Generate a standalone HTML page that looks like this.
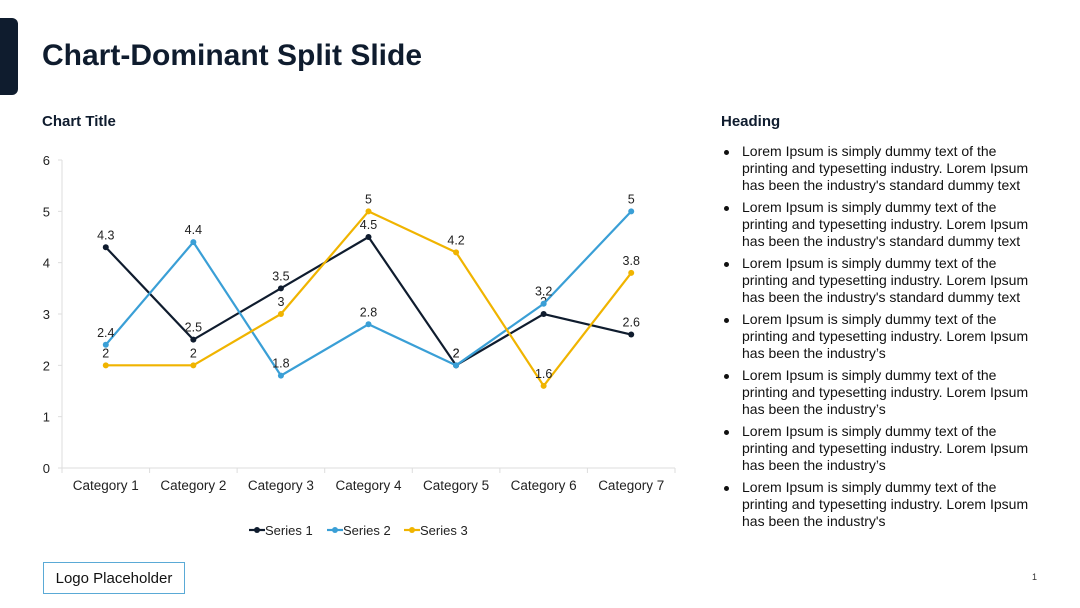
<!DOCTYPE html>
<html><head><meta charset="utf-8"><style>
body{margin:0;width:1080px;height:608px;background:#fff;position:relative;overflow:hidden;font-family:"Liberation Sans",Arial,sans-serif;color:#0f1c2e}
.abs{position:absolute}
ul{margin:0;padding:0;list-style:none}
li{position:relative;padding-left:21px;font-size:14px;line-height:17px;margin-bottom:5px;color:#111}
li:before{content:"";position:absolute;left:3px;top:7px;width:5px;height:5px;border-radius:50%;background:#111}
</style></head><body>
<div class="abs" style="left:0;top:18px;width:18px;height:77px;background:#0f1c2e;border-radius:0 6px 6px 0"></div>
<div class="abs" style="left:42px;top:39px;font-size:30px;font-weight:bold;color:#0f1c2e">Chart-Dominant Split Slide</div>
<div class="abs" style="left:42px;top:113px;font-size:15px;font-weight:bold">Chart Title</div>
<div class="abs" style="left:721px;top:113px;font-size:15px;font-weight:bold">Heading</div>
<ul class="abs" style="left:721px;top:143px;width:318px">
<li>Lorem Ipsum is simply dummy text of the printing and typesetting industry. Lorem Ipsum has been the industry's standard dummy text</li>
<li>Lorem Ipsum is simply dummy text of the printing and typesetting industry. Lorem Ipsum has been the industry's standard dummy text</li>
<li>Lorem Ipsum is simply dummy text of the printing and typesetting industry. Lorem Ipsum has been the industry's standard dummy text</li>
<li>Lorem Ipsum is simply dummy text of the printing and typesetting industry. Lorem Ipsum has been the industry’s</li>
<li>Lorem Ipsum is simply dummy text of the printing and typesetting industry. Lorem Ipsum has been the industry’s</li>
<li>Lorem Ipsum is simply dummy text of the printing and typesetting industry. Lorem Ipsum has been the industry’s</li>
<li>Lorem Ipsum is simply dummy text of the printing and typesetting industry. Lorem Ipsum has been the industry's</li>
</ul>
<div class="abs" style="left:43px;top:562px;width:142px;height:32px;border:1.5px solid #5aaad6;box-sizing:border-box;font-size:15px;line-height:31px;text-align:center;color:#111">Logo Placeholder</div>
<div class="abs" style="left:1032px;top:572px;font-size:9px;color:#333">1</div>
<svg class="abs" id="chart" style="left:0;top:0" width="1080" height="608"></svg>
<script>
const categories=["Category 1","Category 2","Category 3","Category 4","Category 5","Category 6","Category 7"];
const series1=[4.3,2.5,3.5,4.5,2,3,2.6];
const series2=[2.4,4.4,1.8,2.8,2,3.2,5];
const series3=[2,2,3,5,4.2,1.6,3.8];
const seriesNames=["Series 1","Series 2","Series 3"];
const yTicks=[0,1,2,3,4,5,6];
const colors=["#0f1c2e","#3a9fd6","#f0b400"];
const svg=document.getElementById('chart');const NS="http://www.w3.org/2000/svg";
const x0=62,x1=675,yb=468,yt=160,ymax=6;
const bw=(x1-x0)/categories.length;
const X=i=>x0+bw*(i+0.5);const Y=v=>yb-(v/ymax)*(yb-yt);
function mk(t,a,p){const e=document.createElementNS(NS,t);for(const k in a)e.setAttribute(k,a[k]);(p||svg).appendChild(e);return e;}
let e;
e=mk('line',{x1:x0,y1:yt,x2:x0,y2:yb,stroke:'#ddd'});

e=mk('line',{x1:x0,y1:yb,x2:x1,y2:yb,stroke:'#ddd'});

yTicks.forEach(v=>{mk('line',{x1:x0-4,y1:Y(v),x2:x0,y2:Y(v),stroke:'#ddd'});
e=mk('text',{x:x0-12,y:Y(v)+5,'text-anchor':'end','font-size':13,fill:'#222'});e.textContent=v;
});
categories.forEach((c,i)=>{mk('line',{x1:x0+bw*i,y1:yb,x2:x0+bw*i,y2:yb+5,stroke:'#ddd'});
e=mk('text',{x:X(i),y:yb+22,'text-anchor':'middle','font-size':13.5,fill:'#222'});e.textContent=c;
});
mk('line',{x1:x1,y1:yb,x2:x1,y2:yb+5,stroke:'#ddd'});
[series1,series2,series3].forEach((s,k)=>{
 e=mk('polyline',{points:s.map((v,i)=>X(i)+','+Y(v)).join(' '),fill:'none',stroke:colors[k],'stroke-width':2.2});
 
 s.forEach((v,i)=>{e=mk('circle',{cx:X(i),cy:Y(v),r:3,fill:colors[k]});
 
 e=mk('text',{x:X(i),y:Y(v)-8,'text-anchor':'middle','font-size':12.5,fill:'#222'});e.textContent=v;
 });
});
const lx=[249,327,404];
seriesNames.forEach((n,k)=>{const g=mk('g',{});
 
 mk('line',{x1:lx[k],y1:530,x2:lx[k]+16,y2:530,stroke:colors[k],'stroke-width':2.2},g);
 mk('circle',{cx:lx[k]+8,cy:530,r:3,fill:colors[k]},g);
 const t=mk('text',{x:lx[k]+16,y:535,'font-size':13,fill:'#222'},g);t.textContent=n;});
</script>
</body></html>
